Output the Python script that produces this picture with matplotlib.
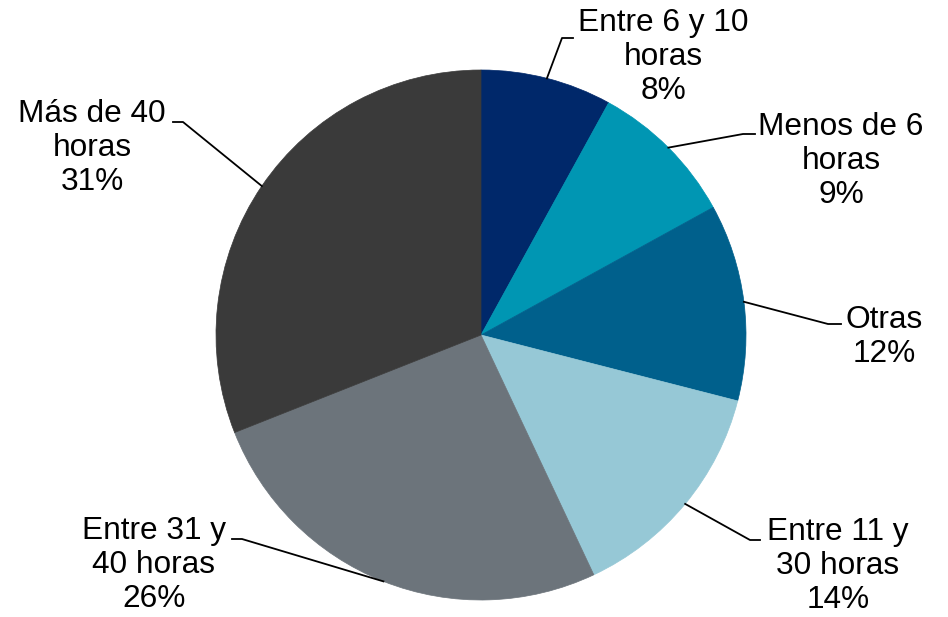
import matplotlib.pyplot as plt
import numpy as np

plt.rcParams['font.family'] = ['Liberation Sans', 'DejaVu Sans']

labels = ['Entre 6 y 10\nhoras', 'Menos de 6\nhoras', 'Otras',
          'Entre 11 y\n30 horas', 'Entre 31 y\n40 horas', 'Más de 40\nhoras']
shares = [8, 9, 12, 14, 26, 31]
colors = ['#00286A', '#0096B3', '#00608C', '#96C8D6', '#6C747B', '#3A3A3A']

# label block centres and elbow points, in pixels (x from left, y from top)
text_px = [(663, 57), (841, 161), (884, 337), (838, 566), (154, 565), (92, 148)]
elbow_px = [(562, 38), (743, 134), (828, 324), (750, 540), (242, 539), (183, 122)]
end_px = [(573, 38), (755, 134), (841, 324), (760, 540), (232, 539), (173, 122)]

W, H, dpi = 948, 617, 100
cx, cy, R = 481, 335, 265

def to_data(p):
    return ((p[0] - cx) / R, (cy - p[1]) / R)

fig = plt.figure(figsize=(W / dpi, H / dpi), dpi=dpi)
ax = fig.add_axes([0, 0, 1, 1])
ax.axis('off')

wedges, _ = ax.pie(shares, colors=colors, startangle=90, counterclock=False, radius=1)
for w, c in zip(wedges, colors):
    w.set_edgecolor(c)
    w.set_linewidth(0.5)
ax.set_xlim(-cx / R, (W - cx) / R)
ax.set_ylim(-(H - cy) / R, cy / R)
ax.set_aspect('auto')

cum = np.cumsum([0] + shares)
for i, lab in enumerate(labels):
    mid = (cum[i] + cum[i + 1]) / 2 / 100 * 2 * np.pi
    start = (np.sin(mid), np.cos(mid))
    e = to_data(elbow_px[i])
    f = to_data(end_px[i])
    ax.plot([start[0], e[0], f[0]], [start[1], e[1], f[1]], color='black', lw=1.3)
    t = to_data(text_px[i])
    ax.text(t[0], t[1], f'{lab}\n{shares[i]}%', ha='center', va='center',
            fontsize=22.8, linespacing=1.19, color='black')

fig.savefig('out.png', dpi=dpi)
